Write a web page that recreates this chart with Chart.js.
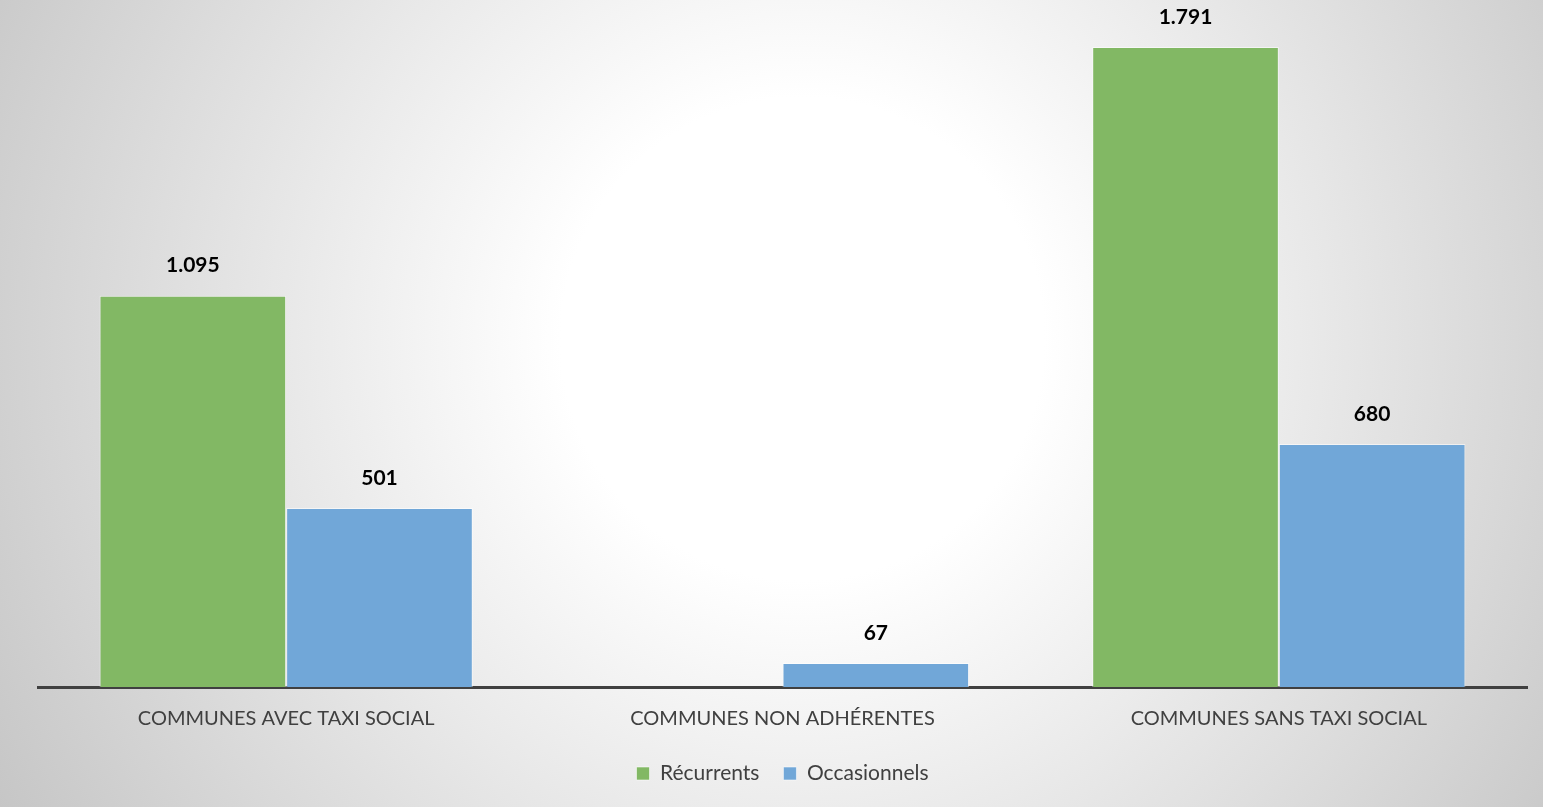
<!DOCTYPE html>
<html>
<head>
<meta charset="utf-8">
<script src="https://cdn.jsdelivr.net/npm/chart.js@4"></script>
<style>
html,body{margin:0;padding:0;}
body{width:1543px;height:807px;overflow:hidden;
  background:radial-gradient(circle farthest-corner at 52% 42%, #ffffff 0%, #ffffff 26%, #e8e8e8 56%, #c6c6c6 100%);}
#wrap{position:relative;width:1543px;height:807px;}
</style>
</head>
<body>
<div id="wrap"><canvas id="chart"></canvas></div>
<script>
// données
const categories=['COMMUNES AVEC TAXI SOCIAL','COMMUNES NON ADHÉRENTES','COMMUNES SANS TAXI SOCIAL'];
const recurrents=[1095,null,1791];
const occasionnels=[501,67,680];
const seriesNames=['Récurrents','Occasionnels'];

const fmt=v=>String(v).replace(/\B(?=(\d{3})+(?!\d))/g,'.');

// étiquettes au-dessus des barres
const valueLabels={
  id:'valueLabels',
  afterDatasetsDraw(chart){
    const ctx=chart.ctx;
    ctx.save();
    ctx.font='bold 21px Lato';
    ctx.fillStyle='#000';
    ctx.textAlign='center'; ctx.textBaseline='middle';
    chart.data.datasets.forEach((ds,i)=>{
      chart.getDatasetMeta(i).data.forEach((bar,j)=>{
        const v=ds.data[j];
        if(v==null) return;
        ctx.fillText(fmt(v),bar.x,bar.y-30);
      });
    });
    ctx.restore();
  }
};

new Chart(document.getElementById('chart'),{
  type:'bar',
  data:{
    labels:categories,
    datasets:[
      {label:seriesNames[0],data:recurrents,backgroundColor:'#82b864',borderColor:'rgba(255,255,255,0.55)',borderWidth:1},
      {label:seriesNames[1],data:occasionnels,backgroundColor:'#71a7d8',borderColor:'rgba(255,255,255,0.55)',borderWidth:1}
    ]
  },
  options:{
    responsive:true,maintainAspectRatio:false,animation:false,
    layout:{padding:{left:38,right:16,top:8,bottom:13}},
    datasets:{bar:{categoryPercentage:0.752,barPercentage:1,grouped:true}},
    scales:{
      x:{
        grid:{display:false,drawTicks:false},
        border:{display:true,color:'#404040',width:3},
        ticks:{color:'#404040',font:{family:'Lato',size:20},padding:20},
        afterFit(s){ s.height-=12; }
      },
      y:{display:false,min:0,max:1900}
    },
    plugins:{
      legend:{position:'bottom',labels:{color:'#404040',font:{family:'Lato',size:21},boxWidth:13,boxHeight:13,padding:24}},
      tooltip:{enabled:false}
    }
  },
  plugins:[valueLabels]
});
</script>
</body>
</html>
